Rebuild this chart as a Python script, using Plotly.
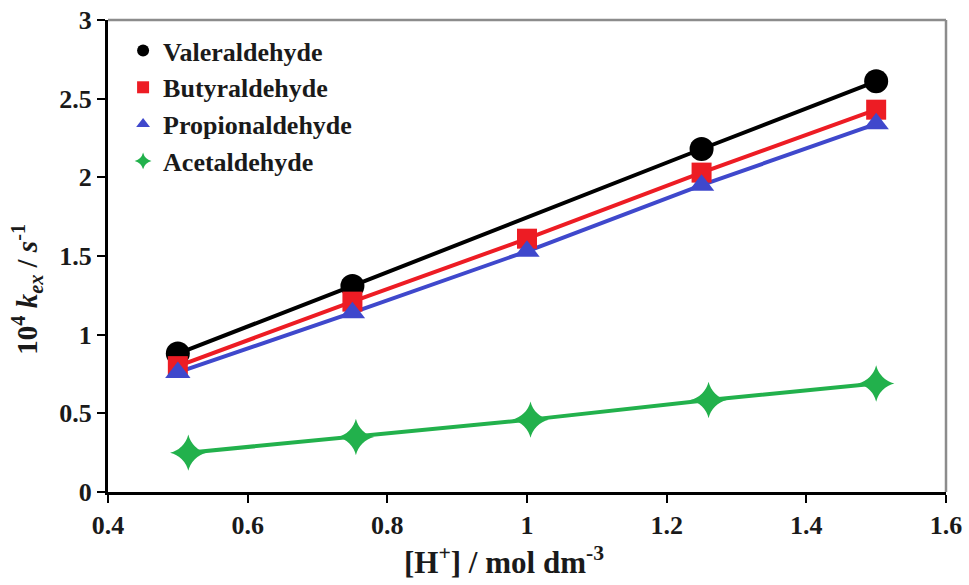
import plotly.graph_objects as go

# Data
val_x = [0.5, 0.75, 1.25, 1.5]
val_y = [0.88, 1.31, 2.18, 2.61]
but_x = [0.5, 0.75, 1.0, 1.25, 1.5]
but_y = [0.80, 1.21, 1.61, 2.03, 2.43]
pro_x = [0.5, 0.75, 1.0, 1.25, 1.5]
pro_y = [0.76, 1.14, 1.53, 1.95, 2.34]
ace_x = [0.515, 0.755, 1.005, 1.26, 1.5]
ace_y = [0.25, 0.35, 0.46, 0.585, 0.69]
x_ticks = [0.4, 0.6, 0.8, 1.0, 1.2, 1.4, 1.6]
x_tick_labels = ["0.4", "0.6", "0.8", "1", "1.2", "1.4", "1.6"]
y_ticks = [0, 0.5, 1, 1.5, 2, 2.5, 3]
y_tick_labels = ["0", "0.5", "1", "1.5", "2", "2.5", "3"]
x_title = "<b>[H<sup>+</sup>] / mol dm<sup>-3</sup></b>"
y_title = "<b>10<sup>4</sup> <i>k<sub>ex</sub></i> / <i>s</i><sup>-1</sup></b>"

series = [
    ("Valeraldehyde", val_x, val_y, "#000000", "circle", 24),
    ("Butyraldehyde", but_x, but_y, "#ED1C24", "square", 20),
    ("Propionaldehyde", pro_x, pro_y, "#3F48CC", "triangle-up", 22),
    ("Acetaldehyde", ace_x, ace_y, "#22B14C", "star-diamond", 26),
]

FONT = "Liberation Serif, Times New Roman, serif"
TXT = "#1a1a1a"

fig = go.Figure()
for name, xs, ys, col, sym, sz in series:
    fig.add_trace(go.Scatter(x=xs, y=ys, mode="lines", line=dict(color=col, width=4),
                             showlegend=False, hoverinfo="skip"))
for i, (name, xs, ys, col, sym, sz) in enumerate(series):
    fig.add_trace(go.Scatter(x=xs, y=ys, mode="markers", name="<b>" + name + "</b>",
                             marker=dict(color=col, symbol=sym, size=sz, line=dict(width=0)),
                             legendgroup=f"g{i}"))

fig.update_layout(
    width=969, height=585,
    margin=dict(l=108, r=23, t=20, b=93, autoexpand=False),
    paper_bgcolor="white", plot_bgcolor="white",
    font=dict(family=FONT, color=TXT, size=26),
    showlegend=True,
    legend=dict(x=0.018, y=0.985, xanchor="left", yanchor="top",
                font=dict(family=FONT, size=26, color=TXT),
                bgcolor="rgba(0,0,0,0)", tracegroupgap=0, itemsizing="constant"),
    xaxis=dict(range=[0.4, 1.6], tickmode="array", tickvals=x_ticks,
               ticktext=["<b>" + t + "</b>" for t in x_tick_labels],
               showgrid=False, zeroline=False, showline=True, linecolor="black", linewidth=3,
               ticks="outside", ticklen=8, tickwidth=2, tickcolor="black", automargin=False,
               ticklabeloverflow="allow",
               tickfont=dict(family=FONT, size=26, color=TXT)),
    yaxis=dict(range=[0, 3], tickmode="array", tickvals=y_ticks,
               ticktext=["<b>" + t + "</b>" for t in y_tick_labels],
               showgrid=False, zeroline=False, showline=True, linecolor="black", linewidth=3,
               ticks="outside", ticklen=8, tickwidth=2, tickcolor="black", automargin=False,
               ticklabeloverflow="allow",
               tickfont=dict(family=FONT, size=26, color=TXT)),
    annotations=[
        dict(text=x_title, xref="paper", yref="paper", x=0.4726, y=-0.146,
             xanchor="center", yanchor="middle", showarrow=False,
             font=dict(family=FONT, size=31, color=TXT)),
        dict(text=y_title, xref="paper", yref="paper", x=-0.097, y=0.43,
             xanchor="center", yanchor="middle", showarrow=False, textangle=-90,
             font=dict(family=FONT, size=29, color=TXT)),
    ],
    shapes=[
        dict(type="line", xref="paper", yref="paper", x0=0, x1=1, y0=1, y1=1,
             line=dict(color="#8c8c8c", width=2.5), layer="above"),
        dict(type="line", xref="paper", yref="paper", x0=1, x1=1, y0=0, y1=1,
             line=dict(color="#8c8c8c", width=2.5), layer="above"),
    ],
)

fig.write_html("out.html", config={"displayModeBar": False},
               post_script="document.body.style.margin='0';")
